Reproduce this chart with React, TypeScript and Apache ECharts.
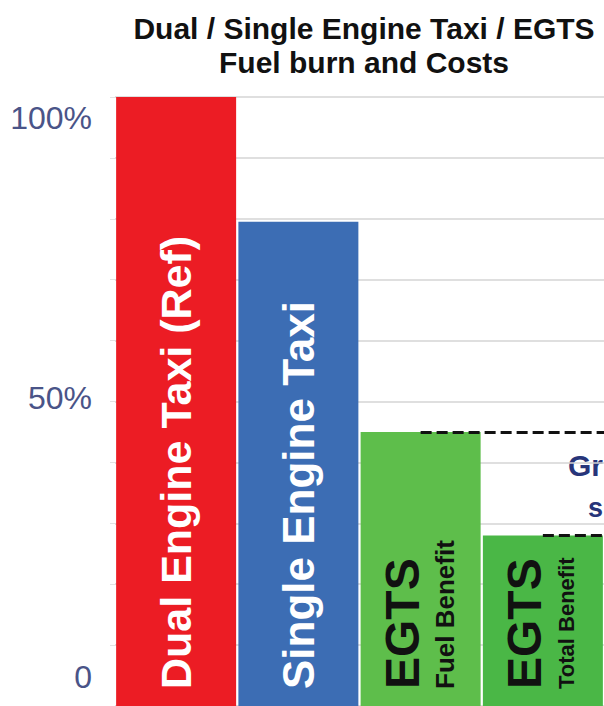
import React, { useEffect, useRef } from "react";
import * as echarts from "echarts";

const categories = [
  "Dual Engine Taxi (Ref)",
  "Single Engine Taxi",
  "EGTS Fuel Benefit",
  "EGTS Total Benefit",
];
const values = [100, 79.5, 45, 28];
const barColors = ["#EC1C24", "#3C6DB4", "#5EBE4B", "#4AB746"];
const barLabels = [
  "{w1|Dual Engine Taxi (Ref)}",
  "{w2|Single Engine Taxi}",
  "{big|EGTS}\n{small1|Fuel Benefit}",
  "{big|EGTS}\n{small2|Total Benefit}",
];
const yTickLabels = ["0", "50%", "100%"];
const titleLines = ["Dual / Single Engine Taxi / EGTS", "Fuel burn and Costs"];
const annotationLines = ["Gr", "s"];

export default function App() {
  const ref = useRef<HTMLDivElement>(null);
  useEffect(() => {
    if (!ref.current) return;
    const chart = echarts.init(ref.current, null, { renderer: "svg" });
    const option: any = {
      animation: false,
      backgroundColor: "#ffffff",
      title: {
        text: titleLines.join("\n"),
        left: 359,
        top: 6,
        textAlign: "center",
        textStyle: {
          fontFamily: "Liberation Sans",
          fontWeight: "bold",
          fontSize: 30,
          lineHeight: 34,
          color: "#111111",
        },
      },
      grid: [
        { left: 115, top: 97, width: 489, height: 610 },
        { left: 115, top: 118, width: 10, height: 559 },
      ],
      xAxis: [
        {
          type: "category",
          data: categories,
          gridIndex: 0,
          axisLine: { show: false },
          axisTick: { show: false },
          axisLabel: { show: false },
        },
        { type: "value", gridIndex: 1, show: false },
      ],
      yAxis: [
        {
          type: "value",
          gridIndex: 0,
          min: 0,
          max: 100,
          interval: 10,
          axisLine: { show: false },
          axisTick: { show: true, length: 5, lineStyle: { color: "#e2e2e2" } },
          axisLabel: { show: false },
          splitLine: { lineStyle: { color: "#d4d4d4", width: 1.5 } },
        },
        {
          type: "value",
          gridIndex: 1,
          min: 0,
          max: 100,
          interval: 50,
          axisLine: { show: false },
          axisTick: { show: false },
          splitLine: { show: false },
          axisLabel: {
            formatter: (v: number) => yTickLabels[Math.round(v / 50)],
            color: "#4A5488",
            fontFamily: "Liberation Sans",
            fontSize: 32,
            margin: 23,
          },
        },
      ],
      series: [
        {
          type: "bar",
          xAxisIndex: 0,
          yAxisIndex: 0,
          barWidth: 120,
          data: values.map((v, i) => ({
            value: v,
            itemStyle: { color: barColors[i] },
            label: { formatter: barLabels[i] },
          })),
          label: {
            show: true,
            position: "insideBottom",
            rotate: 90,
            align: "left",
            verticalAlign: "middle",
            distance: 17,
            rich: {
              w1: {
                color: "#ffffff",
                fontFamily: "Liberation Sans",
                fontWeight: "bold",
                fontSize: 43,
              },
              w2: {
                color: "#ffffff",
                fontFamily: "Liberation Sans",
                fontWeight: "bold",
                fontSize: 44,
              },
              big: {
                color: "#111111",
                fontFamily: "Liberation Sans",
                fontWeight: "bold",
                fontSize: 48,
                lineHeight: 48,
              },
              small1: {
                color: "#111111",
                fontFamily: "Liberation Sans",
                fontWeight: "bold",
                fontSize: 26,
                lineHeight: 36,
              },
              small2: {
                color: "#111111",
                fontFamily: "Liberation Sans",
                fontWeight: "bold",
                fontSize: 22,
                lineHeight: 36,
              },
            },
          },
          markLine: {
            silent: true,
            symbol: "none",
            label: { show: false },
            lineStyle: { color: "#111111", type: [11, 5], width: 3 },
            data: [
              [{ coord: [categories[2], values[2]] }, { coord: [categories[3], values[2]], x: 604 }],
              [{ coord: [categories[3], values[3]] }, { coord: [categories[3], values[3]], x: 604 }],
            ],
          },
        },
      ],
      graphic: [
        {
          type: "text",
          x: 568,
          y: 465,
          style: {
            text: annotationLines[0],
            fill: "#27357A",
            font: "bold 30px 'Liberation Sans'",
            textAlign: "left",
            textVerticalAlign: "middle",
          },
        },
        {
          type: "text",
          x: 588,
          y: 508,
          style: {
            text: annotationLines[1],
            fill: "#27357A",
            font: "bold 27px 'Liberation Sans'",
            textAlign: "left",
            textVerticalAlign: "middle",
          },
        },
      ],
    };
    chart.setOption(option);
    return () => chart.dispose();
  }, []);
  return (
    <div
      ref={ref}
      style={{ position: "absolute", left: 0, top: 0, width: 604, height: 706 }}
    />
  );
}
